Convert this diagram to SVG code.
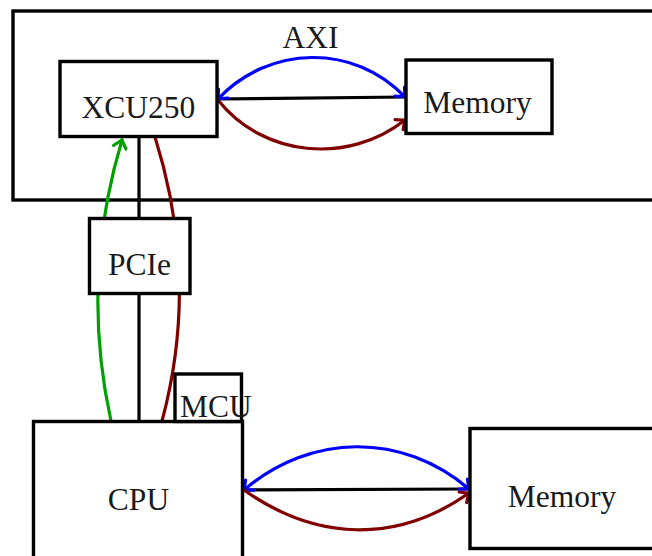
<svg xmlns="http://www.w3.org/2000/svg" width="652" height="556" viewBox="0 0 652 556">
<style>
.box{fill:#fff;stroke:#000;stroke-width:3.4}
.frame{fill:none;stroke:#000;stroke-width:3.4}
.lbl{font-family:"Liberation Serif","Times New Roman",serif;font-size:31.5px;fill:#1a1a1a}
.c{fill:none;stroke-width:3.2;stroke-linecap:round}
.k{stroke:#000}
.b{stroke:#0000ff}
.r{stroke:#800000}
.g{stroke:#00a000}
</style>
<defs>
<marker id="ab" markerUnits="userSpaceOnUse" viewBox="-10 -8 12 16" refX="0" refY="0" markerWidth="12" markerHeight="16" orient="auto-start-reverse"><path d="M-7.5,-6.5 Q-2,-1.5 0,0 Q-2,1.5 -7.5,6.5" fill="none" stroke="#0000ff" stroke-width="3.2" stroke-linecap="round" stroke-linejoin="round"/></marker>
<marker id="ar" markerUnits="userSpaceOnUse" viewBox="-10 -8 12 16" refX="0" refY="0" markerWidth="12" markerHeight="16" orient="auto"><path d="M-7.5,-6.5 Q-2,-1.5 0,0 Q-2,1.5 -7.5,6.5" fill="none" stroke="#800000" stroke-width="3.2" stroke-linecap="round" stroke-linejoin="round"/></marker>
<marker id="ag" markerUnits="userSpaceOnUse" viewBox="-10 -8 12 16" refX="0" refY="0" markerWidth="12" markerHeight="16" orient="auto"><path d="M-7.5,-6.5 Q-2,-1.5 0,0 Q-2,1.5 -7.5,6.5" fill="none" stroke="#00a000" stroke-width="3.2" stroke-linecap="round" stroke-linejoin="round"/></marker>
</defs>
<g id="fpga-board">
<rect class="frame" x="13" y="11" width="700" height="189"/>
<text class="lbl" x="310.5" y="48" text-anchor="middle">AXI</text>
</g>
<g id="connectors">
<path class="c k" d="M217,99 L406,97"/>
<path class="c b" d="M218,99 C269,45 354,43 405,97" marker-start="url(#ab)" marker-end="url(#ab)"/>
<path class="c r" d="M218,100 C263,157 348,165 405,120" marker-end="url(#ar)"/>
<path class="c k" d="M139,136.5 L139,421.5"/>
<path class="c g" d="M111,421 Q80,280 122,140" marker-end="url(#ag)"/>
<path class="c r" d="M155,137 Q200,280 162,421"/>
<path class="c k" d="M243,490 L470,489"/>
<path class="c b" d="M244,490 C311,433 402,432 469,489" marker-start="url(#ab)" marker-end="url(#ab)"/>
<path class="c r" d="M244,490 C316,541 397,544 469,493" marker-end="url(#ar)"/>
</g>
<g id="xcu250">
<rect class="box" x="60" y="61.5" width="157" height="75"/>
<text class="lbl" x="138.5" y="118" text-anchor="middle">XCU250</text>
</g>
<g id="memory-fpga">
<rect class="box" x="406" y="60" width="146" height="73.5"/>
<text class="lbl" x="477.5" y="113" text-anchor="middle">Memory</text>
</g>
<g id="pcie">
<rect class="box" x="89.5" y="218.5" width="100.5" height="75"/>
<text class="lbl" x="139.5" y="275" text-anchor="middle">PCIe</text>
</g>
<g id="cpu">
<rect class="box" x="33.5" y="421.5" width="209" height="150"/>
<text class="lbl" x="138.5" y="510" text-anchor="middle">CPU</text>
</g>
<g id="mcu">
<rect class="box" x="175" y="374" width="66.5" height="47.5"/>
<text class="lbl" x="180" y="416.5">MCU</text>
</g>
<g id="memory-host">
<rect class="box" x="470" y="428.5" width="200" height="120"/>
<text class="lbl" x="562" y="507" text-anchor="middle">Memory</text>
</g>
</svg>
